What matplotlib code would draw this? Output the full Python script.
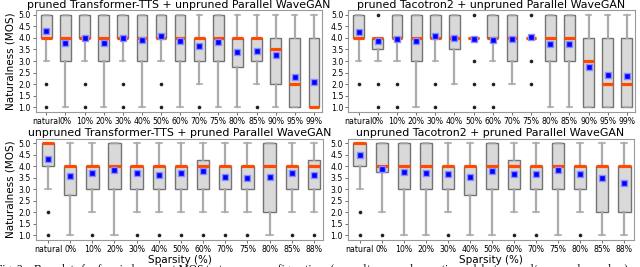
import matplotlib
matplotlib.use('Agg')
import matplotlib.pyplot as plt

# ---- data ----
labels_a = ['natural', '0%', '10%', '20%', '30%', '40%', '50%', '60%', '70%', '75%', '80%', '85%', '90%', '95%', '99%']
labels_b = ['natural', '0%', '10%', '20%', '30%', '40%', '50%', '60%', '70%', '75%', '80%', '85%', '88%']

# pruned Transformer-TTS + unpruned Parallel WaveGAN
tl_q1 = [4, 3, 4, 3, 4, 3, 4, 3, 3, 3, 2.75, 3, 2, 1, 1]
tl_q3 = [5, 5, 5, 5, 5, 5, 5, 5, 4, 5, 4, 4, 4, 4, 4]
tl_med = [4, 4, 4, 4, 4, 4, 4, 4, 4, 4, 4, 4, 3.5, 2, 1]
tl_lo = [3, 1, 3, 1, 3, 1, 3, 1, 2, 1, 1, 2, 1, 1, 1]
tl_hi = [5, 5, 5, 5, 5, 5, 5, 5, 5, 5, 5, 5, 5, 5, 5]
tl_mean = [4.30, 3.78, 3.97, 3.77, 3.99, 3.92, 4.07, 3.86, 3.64, 3.82, 3.40, 3.43, 3.25, 2.31, 2.10]
tl_fliers = [[2, 1], [], [2, 1], [], [2, 1], [], [2, 1], [], [1], [], [], [1], [], [], []]

# pruned Tacotron2 + unpruned Parallel WaveGAN
tr_q1 = [4, 3.5, 4, 3, 4, 3.5, 4, 4, 3, 4, 3, 3, 1, 1, 1]
tr_q3 = [5, 4, 5, 5, 5, 5, 4, 5, 5, 4, 5, 5, 4, 4, 4]
tr_med = [4, 4, 4, 4, 4, 4, 4, 4, 4, 4, 4, 4, 3, 2, 2]
tr_lo = [3, 3, 3, 1, 3, 2, 4, 3, 2, 4, 1, 1, 1, 1, 1]
tr_hi = [5, 4, 5, 5, 5, 5, 4, 5, 5, 4, 5, 5, 5, 5, 5]
tr_mean = [4.23, 3.85, 3.93, 3.87, 4.07, 4.00, 3.94, 3.91, 3.93, 4.03, 3.74, 3.72, 2.73, 2.38, 2.37]
tr_fliers = [[2], [5, 2, 1], [2, 1], [], [2, 1], [], [5, 3, 2, 1], [2, 1], [], [5, 3, 2], [], [], [], [], []]

# unpruned Transformer-TTS + pruned Parallel WaveGAN
bl_q1 = [4, 2.75, 3, 3, 3, 3, 3, 3, 3, 3, 2, 3, 3]
bl_q3 = [5, 4, 4, 5, 4, 4, 4, 4.25, 4, 4, 5, 4, 4.25]
bl_med = [5, 4, 4, 4, 4, 4, 4, 4, 4, 4, 4, 4, 4]
bl_lo = [3, 1, 2, 1, 2, 2, 2, 2, 2, 2, 1, 2, 2]
bl_hi = [5, 5, 5, 5, 5, 5, 5, 5, 5, 5, 5, 5, 5]
bl_mean = [4.33, 3.56, 3.69, 3.85, 3.69, 3.61, 3.69, 3.80, 3.53, 3.51, 3.52, 3.69, 3.61]
bl_fliers = [[2, 1], [], [1], [], [1], [1], [1], [1], [1], [1], [], [1], [1]]

# unpruned Tacotron2 + pruned Parallel WaveGAN
br_q1 = [4, 3.75, 3, 3, 3, 2.75, 3, 3, 3, 3, 3, 2, 2]
br_q3 = [5, 5, 5, 5, 4, 4, 5, 4.25, 4, 5, 4, 4, 4]
br_med = [5, 4, 4, 4, 4, 4, 4, 4, 4, 4, 4, 4, 4]
br_lo = [3, 2, 1, 1, 2, 1, 1, 2, 2, 1, 2, 1, 1]
br_hi = [5, 5, 5, 5, 5, 5, 5, 5, 5, 5, 5, 5, 5]
br_mean = [4.49, 3.88, 3.76, 3.72, 3.65, 3.54, 3.80, 3.68, 3.65, 3.84, 3.68, 3.47, 3.28]
br_fliers = [[2, 1], [1], [], [], [1], [], [], [1], [1], [], [1], [], []]

titles = ['pruned Transformer-TTS + unpruned Parallel WaveGAN',
          'pruned Tacotron2 + unpruned Parallel WaveGAN',
          'unpruned Transformer-TTS + pruned Parallel WaveGAN',
          'unpruned Tacotron2 + pruned Parallel WaveGAN']


def make_stats(labels, q1, q3, med, lo, hi, mean, fliers):
    stats = []
    for i in range(len(labels)):
        stats.append(dict(label=labels[i], q1=q1[i], q3=q3[i], med=med[i],
                          whislo=lo[i], whishi=hi[i], mean=mean[i], fliers=fliers[i]))
    return stats


panels = [
    (make_stats(labels_a, tl_q1, tl_q3, tl_med, tl_lo, tl_hi, tl_mean, tl_fliers), [0.056, 0.58, 0.447, 0.383]),
    (make_stats(labels_a, tr_q1, tr_q3, tr_med, tr_lo, tr_hi, tr_mean, tr_fliers), [0.544, 0.58, 0.448, 0.383]),
    (make_stats(labels_b, bl_q1, bl_q3, bl_med, bl_lo, bl_hi, bl_mean, bl_fliers), [0.056, 0.101, 0.449, 0.38]),
    (make_stats(labels_b, br_q1, br_q3, br_med, br_lo, br_hi, br_mean, br_fliers), [0.543, 0.101, 0.447, 0.38]),
]

fig = plt.figure(figsize=(6.4, 2.67), dpi=100)

for k, (stats, rect) in enumerate(panels):
    ax = fig.add_axes(rect)
    n = len(stats)
    ax.bxp(stats, showmeans=True, patch_artist=True, widths=0.56,
           boxprops=dict(facecolor='#d9d9d9', edgecolor='#737373', linewidth=1.0),
           whiskerprops=dict(color='#ababab', linewidth=1.6),
           capprops=dict(color='#ababab', linewidth=1.2),
           medianprops=dict(color='#ff4a00', linewidth=2.3),
           meanprops=dict(marker='s', markerfacecolor='#0000ff', markeredgecolor='#8c8cff',
                          markersize=4.2),
           flierprops=dict(marker='o', markerfacecolor='#222222', markeredgecolor='#222222',
                           markersize=1.6))
    ax.set_xlim(0.45, n + 0.42)
    ax.set_ylim(0.8, 5.2)
    ax.set_yticks([1.0, 1.5, 2.0, 2.5, 3.0, 3.5, 4.0, 4.5, 5.0])
    ax.set_yticklabels(['1.0', '1.5', '2.0', '2.5', '3.0', '3.5', '4.0', '4.5', '5.0'])
    ax.tick_params(axis='both', labelsize=5.6, length=2, width=0.6, pad=1.5, color='#555555')
    for s in ax.spines.values():
        s.set_color('#999999')
        s.set_linewidth(0.8)
    ax.set_title(titles[k], fontsize=7.9, pad=1.5)
    if k % 2 == 0:
        ax.set_ylabel('Naturalness (MOS)', fontsize=7.5, labelpad=2)
    if k >= 2:
        ax.set_xlabel('Sparsity (%)', fontsize=7.5, labelpad=1)

fig.text(-0.006, -0.012, 'Fig. 2.   Box plots for four independent MOS tests across configurations '
         '(pruned/unpruned acoustic models + pruned/unpruned vocoders)',
         family='Liberation Serif', fontsize=8.3, va='center', ha='left')

fig.savefig('out.png', dpi=100)
